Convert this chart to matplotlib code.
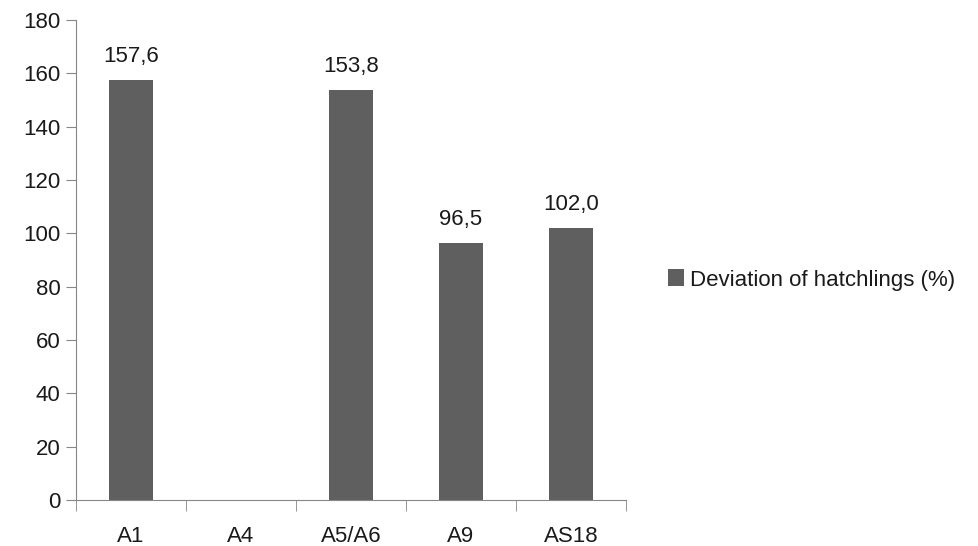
import matplotlib
matplotlib.use("Agg")
import matplotlib.pyplot as plt
from matplotlib.patches import Patch

# -------------------------------
# Data
# -------------------------------
categories = ["A1", "A4", "A5/A6", "A9", "AS18"]
deviation = [157.6, None, 153.8, 96.5, 102.0]
labels = ["157,6", "", "153,8", "96,5", "102,0"]
series_name = "Deviation of hatchlings (%)"

bar_color = "#5f5f5f"
axis_color = "#868686"
text_color = "#1a1a1a"
fs = 16

plt.rcParams["font.family"] = ["Liberation Sans", "DejaVu Sans"]

fig = plt.figure(figsize=(9.79, 5.46), dpi=100)
ax = fig.add_axes([76 / 979, 46 / 546, 550 / 979, 480 / 546])

x = list(range(len(categories)))
for xi, val, lab in zip(x, deviation, labels):
    if val is None:
        continue
    ax.bar(xi, val, width=0.4, color=bar_color)
    ax.annotate(lab, (xi, val), xytext=(0, 9), textcoords="offset points",
                ha="center", va="bottom", fontsize=fs, color=text_color)

ax.set_xlim(-0.5, len(categories) - 0.5)
ax.set_ylim(0, 180)
ax.set_yticks(range(0, 181, 20))
ax.set_xticks(x)
ax.set_xticklabels(categories)
ax.set_xticks([i - 0.5 for i in range(len(categories) + 1)], minor=True)

ax.tick_params(axis="x", which="major", length=0, pad=19, labelsize=fs, labelcolor=text_color)
ax.tick_params(axis="x", which="minor", length=8, color=axis_color, direction="out")
ax.tick_params(axis="y", length=7, color=axis_color, labelsize=fs, labelcolor=text_color, pad=4)

for side in ["top", "right"]:
    ax.spines[side].set_visible(False)
for side in ["left", "bottom"]:
    ax.spines[side].set_color(axis_color)

handle = Patch(facecolor=bar_color, label=series_name)
fig.legend(handles=[handle], loc="center left", bbox_to_anchor=(668 / 979, 1 - 280 / 546),
           frameon=False, fontsize=fs, handlelength=0.7, handleheight=0.8,
           handletextpad=0.3, borderpad=0, borderaxespad=0, labelcolor=text_color)

fig.savefig("out.png", dpi=100)
